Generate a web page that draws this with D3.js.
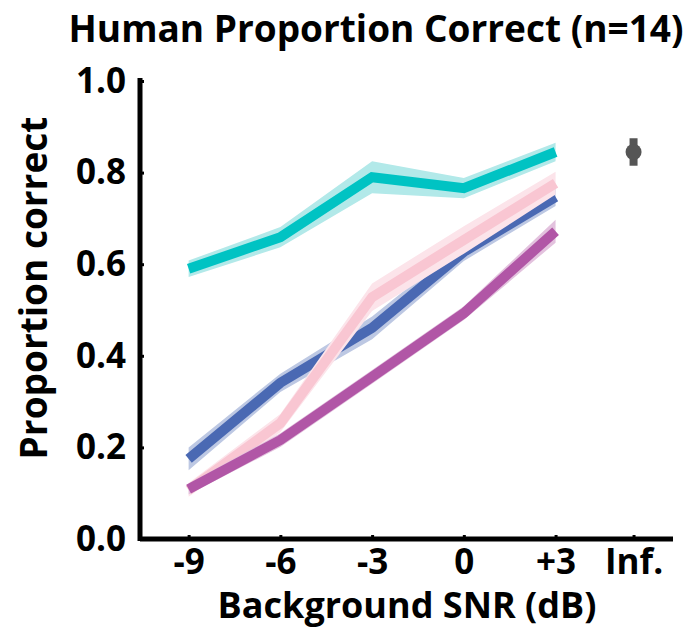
<!DOCTYPE html>
<html>
<head>
<meta charset="utf-8">
<script src="https://cdn.jsdelivr.net/npm/d3@7"></script>
<style>
  body { margin: 0; background: #fff; }
  svg text { font-family: "Open Sans", sans-serif; font-weight: bold; fill: #000; }
</style>
</head>
<body>
<svg id="chart" width="695" height="631"></svg>
<script>
// snr conditions (index positions on the x axis)
var snrLabels = ["-9", "-6", "-3", "0", "+3", "Inf."];
var snrPos = [0, 1, 2, 3, 4, 4.85];

var yTicks = [0.0, 0.2, 0.4, 0.6, 0.8, 1.0];

// proportion correct per condition, with sem band half-widths
var cyanMean = [0.590, 0.659, 0.790, 0.766, 0.845];
var cyanSem = [0.018, 0.022, 0.035, 0.022, 0.02];
var blueMean = [0.175, 0.341, 0.461, 0.627, 0.747];
var blueSem = [0.025, 0.02, 0.025, 0.02, 0.02];
var pinkMean = [0.107, 0.253, 0.528, 0.653, 0.777];
var pinkSem = [0.015, 0.02, 0.03, 0.03, 0.025];
var magentaMean = [0.109, 0.216, 0.354, 0.493, 0.672];
var magentaSem = [0.012, 0.015, 0.015, 0.015, 0.025];

// clean speech (Inf.) point
var infMean = 0.845;
var infSem = 0.03;

var series = [
  {name: "cyan", mean: cyanMean, sem: cyanSem, line: "#00c3c3", band: "#b2e9e9"},
  {name: "blue", mean: blueMean, sem: blueSem, line: "#4a69b3", band: "#bdc8e3"},
  {name: "pink", mean: pinkMean, sem: pinkSem, line: "#f9c6d2", band: "#fce4ea"},
  {name: "magenta", mean: magentaMean, sem: magentaSem, line: "#b156a6", band: "#e3c2de"}
];

var svg = d3.select("svg#chart");

var x = d3.scaleLinear().domain([-0.53, 5.28]).range([140, 673]);
var y = d3.scaleLinear().domain([0, 1]).range([539, 81]);

var g = svg.append("g");

// bands + lines
series.forEach(function(s) {
  var pts = s.mean.map(function(m, i) { return {x: snrPos[i], m: m, e: s.sem[i]}; });

  g.append("path")
    .datum(pts)
    .attr("fill", s.band)
    .attr("d", d3.area()
      .x(function(d) { return x(d.x); })
      .y0(function(d) { return y(d.m - d.e); })
      .y1(function(d) { return y(d.m + d.e); }));

  g.append("path")
    .datum(pts)
    .attr("fill", "none")
    .attr("stroke", s.line)
    .attr("stroke-width", 10)
    .attr("d", d3.line()
      .x(function(d) { return x(d.x); })
      .y(function(d) { return y(d.m); }));
});

// Inf. point with error bar
g.append("line")
  .attr("x1", x(snrPos[5])).attr("x2", x(snrPos[5]))
  .attr("y1", y(infMean - infSem)).attr("y2", y(infMean + infSem))
  .attr("stroke", "#555").attr("stroke-width", 8);
g.append("circle")
  .attr("cx", x(snrPos[5])).attr("cy", y(infMean))
  .attr("r", 8).attr("fill", "#555");

// axes
var xAxis = svg.append("g")
  .attr("transform", "translate(0," + 539 + ")")
  .call(d3.axisBottom(x).tickValues(snrPos).tickSize(-4).tickPadding(8)
    .tickFormat(function(d, i) { return snrLabels[i]; }));
xAxis.select(".domain").attr("d", "M" + x.range()[0] + ",0H" + x.range()[1])
  .attr("stroke", "#000").attr("stroke-width", 5);
xAxis.selectAll(".tick line").attr("stroke-width", 3);
xAxis.selectAll("text").attr("font-size", 35).attr("dy", "0.76em");

var yAxis = svg.append("g")
  .attr("transform", "translate(" + 140 + ",0)")
  .call(d3.axisLeft(y).tickValues(yTicks).tickSize(-4).tickPadding(14).tickFormat(d3.format(".1f")));
yAxis.select(".domain").attr("d", "M0,78V" + 541)
  .attr("stroke", "#000").attr("stroke-width", 5);
yAxis.selectAll(".tick line").attr("stroke-width", 3);
yAxis.selectAll("text").attr("font-size", 35);

// titles
svg.append("text")
  .attr("x", 376).attr("y", 42)
  .attr("text-anchor", "middle")
  .attr("font-size", 37)
  .text("Human Proportion Correct (n=14)");

svg.append("text")
  .attr("x", 407).attr("y", 618)
  .attr("text-anchor", "middle")
  .attr("font-size", 36)
  .text("Background SNR (dB)");

svg.append("text")
  .attr("transform", "translate(47," + 288 + ") rotate(-90)")
  .attr("text-anchor", "middle")
  .attr("font-size", 37)
  .text("Proportion correct");
</script>
</body>
</html>
